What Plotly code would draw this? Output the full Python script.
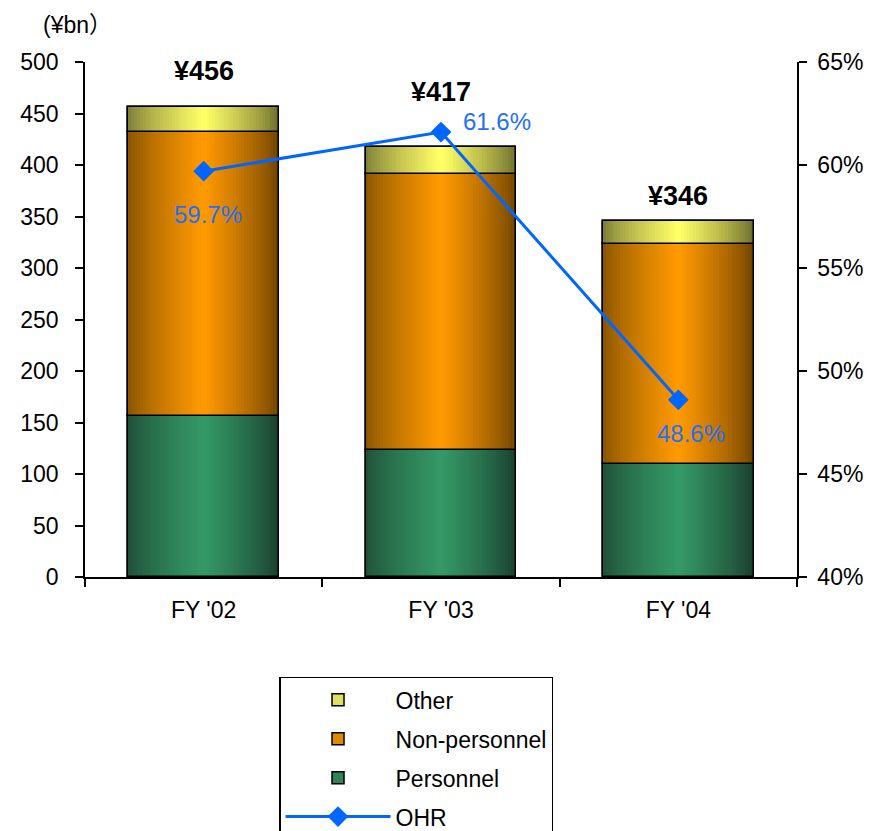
import plotly.graph_objects as go

# ---------------- data ----------------
categories = ["FY '02", "FY '03", "FY '04"]
personnel = [156, 123, 110]
non_personnel = [276, 268, 213]
other = [24, 26, 23]
totals = [456, 417, 346]
ohr = [59.7, 61.6, 48.6]
total_labels = ["¥456", "¥417", "¥346"]
ohr_labels = ["59.7%", "61.6%", "48.6%"]

# ---------------- styling ----------------
FONT = "Liberation Sans, Arial, Noto Sans CJK JP, sans-serif"
FS = 23
W = 0.636  # bar width (category units)
N = 26     # gradient layers per half

segments = [
    # name, values, center rgb, left-edge rgb, right-edge rgb, legend mid color, rank
    ("Personnel", personnel, (52, 153, 102), (32, 82, 57), (26, 62, 44), "#2e8558", 3),
    ("Non-personnel", non_personnel, (255, 153, 0), (140, 86, 0), (112, 68, 0), "#e08a00", 2),
    ("Other", other, (255, 255, 102), (128, 128, 56), (110, 110, 46), "#e0e060", 1),
]

def mix(a, b, t):
    return "rgb(%d,%d,%d)" % tuple(round(a[i] + (b[i] - a[i]) * t) for i in range(3))

fig = go.Figure()

bases = [0] * len(categories)
for name, vals, cen, led, red, mid, rank in segments:
    # legend-carrying full-width bar (underneath)
    fig.add_trace(go.Bar(
        x=categories, y=vals, base=bases, width=W, offset=-W / 2,
        marker=dict(color=mid, line=dict(color="black", width=1.5)),
        name=name, legendgroup=name, legendrank=rank, showlegend=True,
        hoverinfo="skip"))
    # gradient halves
    for k in range(N):
        t = (k / (N - 1)) ** 0.8
        d = (W / 2) * k / N
        fig.add_trace(go.Bar(
            x=categories, y=vals, base=bases, width=W / 2 - d, offset=-W / 2 + d,
            marker=dict(color=mix(led, cen, t), line=dict(width=0)),
            legendgroup=name, showlegend=False, hoverinfo="skip"))
        fig.add_trace(go.Bar(
            x=categories, y=vals, base=bases, width=W / 2 - d, offset=0,
            marker=dict(color=mix(red, cen, t), line=dict(width=0)),
            legendgroup=name, showlegend=False, hoverinfo="skip"))
    # outline on top
    fig.add_trace(go.Bar(
        x=categories, y=vals, base=bases, width=W, offset=-W / 2,
        marker=dict(color="rgba(0,0,0,0)", line=dict(color="black", width=1.5)),
        legendgroup=name, showlegend=False, hoverinfo="skip"))
    bases = [b + v for b, v in zip(bases, vals)]

fig.add_trace(go.Scatter(
    x=categories, y=ohr, yaxis="y2", mode="lines+markers", name="OHR",
    legendgroup="OHR", legendrank=4,
    line=dict(color="#0066ff", width=3),
    marker=dict(symbol="diamond", size=16, color="#0066ff")))

# total labels
total_shift = [36, 55, 25]
for c, t, lab, s in zip(categories, totals, total_labels, total_shift):
    fig.add_annotation(x=c, y=t, text="<b>%s</b>" % lab, showarrow=False,
                       yshift=s, yanchor="middle",
                       font=dict(family=FONT, size=27, color="black"))

# OHR labels
ohr_shift = [(4, -43), (56, 11), (13, -34)]
for c, v, lab, (xs, ys) in zip(categories, ohr, ohr_labels, ohr_shift):
    fig.add_annotation(x=c, y=v, yref="y2", text=lab, showarrow=False,
                       xshift=xs, yshift=ys, yanchor="middle",
                       font=dict(family=FONT, size=24, color="#1f6fff"))

fig.add_annotation(xref="paper", yref="paper", x=-0.01, y=1.072,
                   xanchor="center", yanchor="middle", text="(¥bn）",
                   showarrow=False, font=dict(family=FONT, size=FS, color="black"))

axis_common = dict(showline=True, linecolor="black", linewidth=1.5,
                   ticks="outside", ticklen=8, tickcolor="black", tickwidth=1.5,
                   showgrid=False, tickfont=dict(size=FS))

fig.update_layout(
    width=870, height=831,
    margin=dict(l=85, r=73, t=62, b=254, autoexpand=False),
    paper_bgcolor="white", plot_bgcolor="white",
    barmode="overlay", bargap=0,
    font=dict(family=FONT, size=FS, color="black"),
    xaxis=dict(type="category", tickson="boundaries", ticklabelstandoff=12,
               **axis_common),
    yaxis=dict(range=[0, 500], dtick=50, zeroline=False, ticklabelstandoff=12,
               **axis_common),
    yaxis2=dict(range=[40, 65], dtick=5, ticksuffix="%", overlaying="y",
                side="right", zeroline=False, ticklabelstandoff=6,
                **axis_common),
    legend=dict(x=0.2725, y=-0.194, xanchor="left", yanchor="top",
                bordercolor="black", borderwidth=1.5, bgcolor="white",
                font=dict(size=FS), tracegroupgap=6, itemwidth=105,
                traceorder="grouped"),
    showlegend=True,
)

fig.write_html("out.html")
